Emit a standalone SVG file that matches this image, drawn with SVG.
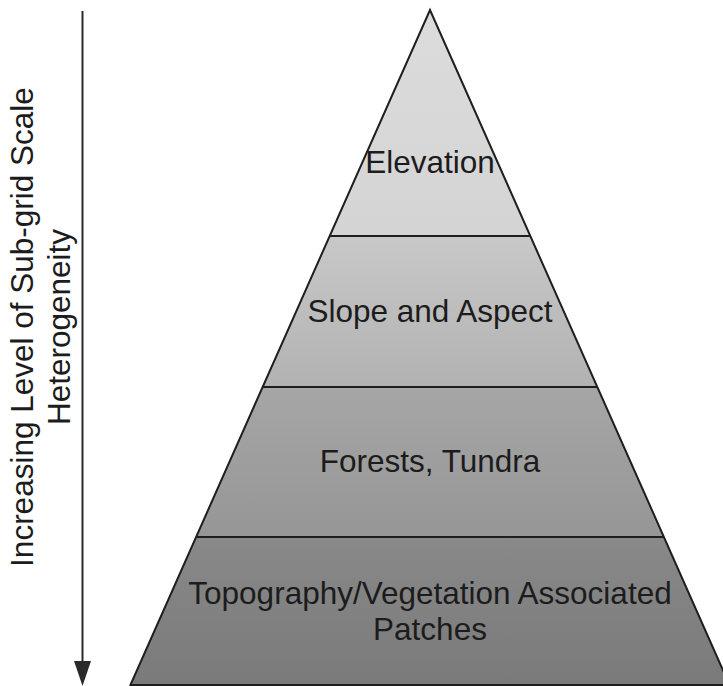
<svg xmlns="http://www.w3.org/2000/svg" width="723" height="686" viewBox="0 0 723 686">
<defs>
<style>
.lbl{font-family:"Liberation Sans",Arial,sans-serif;font-size:31.5px;fill:#1c1c1c;text-anchor:middle}
.sep{stroke:#1e1e1e;stroke-width:2;fill:none}
.edge{stroke:#1e1e1e;stroke-width:2;fill:none;stroke-linejoin:miter}
.conn{stroke:#2a2a2a;stroke-width:2;fill:none}
</style>
<linearGradient id="g1" x1="0" y1="0" x2="0" y2="1"><stop offset="0" stop-color="#dcdcdc"/><stop offset="1" stop-color="#d4d4d4"/></linearGradient>
<linearGradient id="g2" x1="0" y1="0" x2="0" y2="1"><stop offset="0" stop-color="#c8c8c8"/><stop offset="1" stop-color="#b2b2b2"/></linearGradient>
<linearGradient id="g3" x1="0" y1="0" x2="0" y2="1"><stop offset="0" stop-color="#a6a6a6"/><stop offset="1" stop-color="#969696"/></linearGradient>
<linearGradient id="g4" x1="0" y1="0" x2="0" y2="1"><stop offset="0" stop-color="#898989"/><stop offset="1" stop-color="#7a7a7a"/></linearGradient>
<marker id="ah" markerUnits="userSpaceOnUse" markerWidth="25" markerHeight="18" refX="9" refY="9" orient="auto">
<path d="M0,0.5 L25,9 L0,17.5 z" fill="#2a2a2a"/>
</marker>
</defs>
<rect width="723" height="686" fill="#ffffff"/>
<g id="band-elevation">
<polygon points="430,10 329.7,236 530.3,236" fill="url(#g1)"/>
<text class="lbl" x="430" y="173">Elevation</text>
</g>
<g id="band-slope">
<polygon points="329.7,236 530.3,236 597.3,387 262.7,387" fill="url(#g2)"/>
<text class="lbl" x="430" y="322">Slope and Aspect</text>
</g>
<g id="band-forests">
<polygon points="262.7,387 597.3,387 663.9,537 196.1,537" fill="url(#g3)"/>
<text class="lbl" x="430" y="472">Forests, Tundra</text>
</g>
<g id="band-patches">
<polygon points="196.1,537 663.9,537 730,686 130,686" fill="url(#g4)"/>
<text class="lbl" x="430" y="604">Topography/Vegetation Associated</text>
<text class="lbl" x="430" y="640">Patches</text>
</g>
<g id="pyramid-outline">
<polyline class="edge" points="130,686 430,10 730,686"/>
<line class="sep" x1="329.7" y1="236" x2="530.3" y2="236"/>
<line class="sep" x1="262.7" y1="387" x2="597.3" y2="387"/>
<line class="sep" x1="196.1" y1="537" x2="663.9" y2="537"/>
<line class="sep" x1="130" y1="685" x2="723" y2="685"/>
</g>
<g id="axis-label">
<text class="lbl" x="33" y="327" transform="rotate(-90 33 327)">Increasing Level of Sub-grid Scale</text>
<text class="lbl" x="70" y="327" transform="rotate(-90 70 327)">Heterogeneity</text>
</g>
<g id="connectors">
<line class="conn" x1="82.5" y1="11" x2="82.5" y2="670" marker-end="url(#ah)"/>
</g>
</svg>
